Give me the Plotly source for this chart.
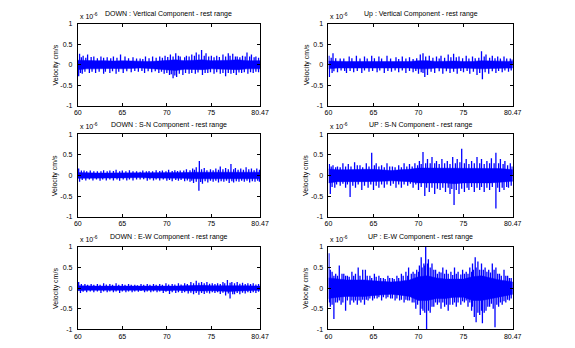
import plotly.graph_objects as go

# ---- time axis ----
T_START, T_END = 60.0, 80.47
core_t = [60, 61, 62, 63, 64, 65, 66, 67, 68, 69, 70, 71, 72, 73, 74, 75,
          76, 77, 78, 79, 80, 80.47]
x_tickvals = [60, 65, 70, 75, 80.47]
x_ticktext = ["60", "65", "70", "75", "80.47"]
y_tickvals = [-1, -0.5, 0, 0.5, 1]
y_ticktext = ["-1", "-0.5", "0", "0.5", "1"]

titles = [
    "DOWN : Vertical Component - rest range",
    "Up : Vertical Component - rest range",
    "DOWN : S-N Component - rest range",
    "UP : S-N Component - rest range",
    "DOWN : E-W Component - rest range",
    "UP : E-W Component - rest range",
]

# ---- velocity, units of 1e-6 cm/s ----
# dense core of each record (upper / lower envelope at core_t)
dv_hi = [0.11, 0.10, 0.10, 0.10, 0.09, 0.10, 0.09, 0.08, 0.08, 0.09, 0.11, 0.12,
         0.10, 0.11, 0.12, 0.10, 0.10, 0.11, 0.12, 0.10, 0.10, 0.10]
dv_lo = [-0.12, -0.10, -0.10, -0.10, -0.09, -0.10, -0.09, -0.08, -0.09, -0.10, -0.12,
         -0.14, -0.11, -0.11, -0.12, -0.10, -0.11, -0.11, -0.12, -0.10, -0.10, -0.10]
uv_hi = [0.09, 0.08, 0.08, 0.08, 0.08, 0.08, 0.08, 0.07, 0.08, 0.08, 0.10, 0.10,
         0.08, 0.09, 0.09, 0.08, 0.08, 0.10, 0.09, 0.08, 0.08, 0.08]
uv_lo = [-0.10, -0.08, -0.08, -0.08, -0.08, -0.08, -0.08, -0.07, -0.08, -0.08, -0.10,
         -0.10, -0.08, -0.09, -0.09, -0.08, -0.09, -0.10, -0.09, -0.08, -0.08, -0.08]
dsn_hi = [0.07, 0.06, 0.06, 0.06, 0.06, 0.06, 0.06, 0.06, 0.06, 0.06, 0.07, 0.07,
          0.07, 0.08, 0.08, 0.08, 0.08, 0.08, 0.08, 0.08, 0.08, 0.08]
dsn_lo = [-0.07, -0.06, -0.06, -0.06, -0.06, -0.06, -0.06, -0.05, -0.06, -0.06, -0.07,
          -0.07, -0.07, -0.08, -0.09, -0.08, -0.08, -0.08, -0.08, -0.08, -0.08, -0.08]
usn_hi = [0.16, 0.14, 0.14, 0.15, 0.15, 0.15, 0.14, 0.12, 0.14, 0.15, 0.18, 0.18,
          0.18, 0.18, 0.18, 0.17, 0.18, 0.18, 0.18, 0.17, 0.15, 0.14]
usn_lo = [-0.18, -0.15, -0.15, -0.15, -0.15, -0.15, -0.14, -0.13, -0.14, -0.15, -0.18,
          -0.18, -0.18, -0.18, -0.20, -0.18, -0.18, -0.18, -0.18, -0.17, -0.15, -0.14]
dew_hi = [0.06, 0.05, 0.05, 0.05, 0.05, 0.05, 0.05, 0.04, 0.05, 0.05, 0.05, 0.05,
          0.06, 0.07, 0.07, 0.06, 0.06, 0.07, 0.07, 0.06, 0.05, 0.05]
dew_lo = [-0.06, -0.05, -0.05, -0.05, -0.05, -0.05, -0.05, -0.04, -0.05, -0.05, -0.06,
          -0.05, -0.06, -0.07, -0.07, -0.06, -0.07, -0.08, -0.07, -0.06, -0.05, -0.05]
uew_hi = [0.25, 0.22, 0.20, 0.20, 0.20, 0.18, 0.16, 0.15, 0.17, 0.20, 0.28, 0.30,
          0.25, 0.22, 0.22, 0.22, 0.28, 0.30, 0.25, 0.20, 0.17, 0.15]
uew_lo = [-0.25, -0.22, -0.20, -0.20, -0.20, -0.18, -0.16, -0.15, -0.17, -0.20, -0.30,
          -0.30, -0.25, -0.25, -0.22, -0.22, -0.30, -0.30, -0.25, -0.20, -0.17, -0.15]

# major peaks (time, value)
dv_pk_t = [60.2, 60.6, 61.1, 61.8, 62.6, 63.3, 64.0, 64.8, 65.3, 66.2, 67.0, 67.6, 68.4,
           69.2, 69.8, 70.4, 71.0, 71.5, 72.2, 72.8, 73.3, 73.9, 74.4, 75.0, 75.6, 76.3,
           76.9, 77.4, 77.9, 78.5, 79.0, 79.5, 80.0,
           60.1, 60.5, 61.3, 62.0, 62.9, 63.6, 64.3, 65.1, 66.0, 66.8, 67.5, 68.3, 69.1,
           69.7, 70.3, 70.7, 71.1, 71.8, 72.5, 73.2, 74.0, 74.6, 75.3, 76.0, 76.6, 77.2,
           77.8, 78.4, 79.1, 79.7, 80.3]
dv_pk_v = [0.27, 0.22, 0.25, 0.20, 0.20, 0.18, 0.20, 0.25, 0.20, 0.18, 0.15, 0.20, 0.20,
           0.20, 0.22, 0.25, 0.28, 0.20, 0.22, 0.25, 0.30, 0.36, 0.28, 0.22, 0.22, 0.25,
           0.28, 0.27, 0.20, 0.22, 0.30, 0.25, 0.20,
           -0.28, -0.22, -0.20, -0.20, -0.22, -0.20, -0.22, -0.20, -0.18, -0.17, -0.20,
           -0.18, -0.20, -0.22, -0.25, -0.33, -0.30, -0.25, -0.22, -0.22, -0.25, -0.20,
           -0.22, -0.22, -0.28, -0.22, -0.25, -0.20, -0.22, -0.20, -0.18]
uv_pk_t = [60.05, 60.5, 62.3, 63.1, 64.0, 64.8, 65.6, 66.5, 67.5, 68.2, 69.0, 70.2, 70.5,
           71.2, 72.0, 72.5, 73.3, 73.9, 74.5, 75.3, 76.0, 77.0, 77.5, 78.2, 78.8, 79.5,
           80.2,
           60.1, 60.4, 61.0, 62.0, 62.8, 63.7, 64.5, 65.4, 66.2, 67.0, 67.8, 68.6, 69.4,
           70.0, 70.7, 71.0, 71.8, 72.7, 73.5, 74.3, 75.0, 75.7, 76.5, 77.1, 77.8, 78.6,
           79.3, 80.0]
uv_pk_v = [0.22, 0.28, 0.20, 0.22, 0.20, 0.22, 0.20, 0.22, 0.18, 0.20, 0.18, 0.25, 0.28,
           0.22, 0.20, 0.22, 0.25, 0.27, 0.20, 0.22, 0.20, 0.33, 0.25, 0.22, 0.20, 0.20,
           0.15,
           -0.30, -0.20, -0.18, -0.20, -0.18, -0.20, -0.17, -0.18, -0.20, -0.17, -0.18,
           -0.20, -0.18, -0.22, -0.30, -0.25, -0.20, -0.22, -0.20, -0.22, -0.18, -0.22,
           -0.25, -0.35, -0.22, -0.20, -0.18, -0.17]
dsn_pk_t = [60.1, 60.7, 61.4, 62.2, 62.9, 63.6, 64.3, 65.0, 65.8, 66.6, 67.3, 68.0, 68.8,
            69.5, 70.2, 70.9, 71.5, 72.2, 72.9, 73.3, 73.65, 74.2, 74.9, 75.5, 76.0, 76.6,
            77.2, 77.7, 78.3, 78.9, 79.5, 80.1,
            60.2, 60.9, 61.7, 62.5, 63.2, 64.0, 64.7, 65.5, 66.2, 67.0, 67.8, 68.5, 69.2,
            70.0, 70.6, 71.3, 72.0, 72.6, 73.0, 73.6, 74.0, 74.6, 75.2, 75.8, 76.4, 77.0,
            77.5, 78.1, 78.7, 79.3, 79.9, 80.4]
dsn_pk_v = [0.17, 0.12, 0.12, 0.10, 0.13, 0.12, 0.14, 0.12, 0.13, 0.10, 0.12, 0.11, 0.13,
            0.12, 0.14, 0.13, 0.12, 0.15, 0.17, 0.20, 0.35, 0.18, 0.15, 0.17, 0.22, 0.18,
            0.28, 0.18, 0.17, 0.20, 0.17, 0.17,
            -0.15, -0.12, -0.12, -0.13, -0.12, -0.12, -0.13, -0.12, -0.12, -0.10, -0.13,
            -0.12, -0.12, -0.13, -0.14, -0.13, -0.14, -0.15, -0.18, -0.37, -0.20, -0.17,
            -0.15, -0.17, -0.15, -0.18, -0.17, -0.15, -0.15, -0.17, -0.15, -0.15]
usn_pk_t = [60.1, 60.5, 61.0, 61.6, 62.2, 62.9, 63.5, 64.2, 64.8, 65.3, 65.9, 66.5, 67.1,
            67.8, 68.4, 69.0, 69.6, 70.1, 70.5, 71.0, 71.5, 72.0, 72.6, 73.2, 73.8, 74.3,
            74.8, 75.3, 75.9, 76.5, 77.0, 77.6, 78.1, 78.6, 79.1, 79.6, 80.2,
            60.2, 60.7, 61.3, 61.9, 62.4, 63.0, 63.7, 64.4, 65.0, 65.6, 66.2, 66.9, 67.5,
            68.1, 68.8, 69.4, 70.0, 70.7, 71.2, 71.8, 72.4, 73.0, 73.5, 73.95, 74.5, 75.1,
            75.6, 76.2, 76.8, 77.3, 77.9, 78.6, 79.0, 79.5, 80.0]
usn_pk_v = [0.28, 0.25, 0.22, 0.30, 0.28, 0.32, 0.25, 0.30, 0.55, 0.30, 0.25, 0.30, 0.22,
            0.25, 0.30, 0.28, 0.30, 0.35, 0.57, 0.40, 0.45, 0.35, 0.40, 0.35, 0.45, 0.40,
            0.65, 0.40, 0.35, 0.45, 0.40, 0.35, 0.42, 0.55, 0.40, 0.35, 0.30,
            -0.45, -0.30, -0.25, -0.30, -0.52, -0.30, -0.35, -0.30, -0.35, -0.30, -0.30,
            -0.25, -0.30, -0.30, -0.25, -0.30, -0.35, -0.50, -0.40, -0.45, -0.35, -0.40,
            -0.45, -0.72, -0.45, -0.40, -0.35, -0.40, -0.35, -0.40, -0.35, -0.80, -0.40,
            -0.35, -0.30]
dew_pk_t = [60.1, 60.8, 61.5, 62.2, 62.9, 63.6, 64.3, 65.0, 65.7, 66.4, 67.1, 67.8, 68.5,
            69.2, 69.9, 70.6, 71.3, 72.0, 72.7, 73.3, 73.9, 74.5, 75.1, 75.7, 76.3, 76.8,
            77.3, 77.9, 78.5, 79.1, 79.7, 80.3,
            60.3, 61.0, 61.8, 62.6, 63.3, 64.0, 64.7, 65.4, 66.1, 66.8, 67.5, 68.2, 68.9,
            69.6, 70.3, 71.0, 71.7, 72.4, 73.0, 73.6, 74.2, 74.8, 75.4, 76.0, 76.6, 77.1,
            77.6, 78.2, 78.8, 79.4, 80.0]
dew_pk_v = [0.15, 0.10, 0.10, 0.10, 0.12, 0.10, 0.12, 0.10, 0.10, 0.08, 0.10, 0.10, 0.10,
            0.10, 0.12, 0.10, 0.12, 0.12, 0.15, 0.18, 0.15, 0.15, 0.12, 0.12, 0.15, 0.20,
            0.15, 0.15, 0.13, 0.12, 0.12, 0.10,
            -0.12, -0.10, -0.10, -0.12, -0.10, -0.10, -0.12, -0.10, -0.10, -0.09, -0.10,
            -0.10, -0.10, -0.12, -0.14, -0.12, -0.12, -0.13, -0.15, -0.16, -0.14, -0.13,
            -0.12, -0.14, -0.18, -0.25, -0.15, -0.15, -0.13, -0.12, -0.12]
uew_pk_t = [60.05, 60.4, 60.8, 61.2, 61.7, 62.1, 62.6, 63.0, 63.3, 63.8, 64.1, 64.6, 65.1,
            65.6, 66.1, 66.6, 67.1, 67.6, 68.1, 68.6, 68.9, 69.4, 69.8, 70.1, 70.3, 70.6,
            70.8, 71.1, 71.5, 71.9, 72.3, 72.7, 73.1, 73.6, 74.0, 74.4, 74.9, 75.3, 75.7,
            76.0, 76.3, 76.6, 77.0, 77.4, 77.8, 78.2, 78.6, 79.0, 79.5, 79.9, 80.3,
            60.2, 60.6, 61.0, 61.4, 61.9, 62.4, 62.8, 63.2, 63.6, 64.0, 64.4, 64.9, 65.4,
            65.9, 66.4, 66.9, 67.4, 67.9, 68.4, 68.8, 69.3, 69.7, 70.2, 70.5, 70.9, 71.3,
            71.7, 72.1, 72.5, 72.9, 73.3, 73.8, 74.2, 74.7, 75.1, 75.5, 75.9, 76.2, 76.4,
            76.8, 77.1, 77.5, 77.9, 78.3, 78.5, 78.9, 79.3, 79.7, 80.1]
uew_pk_v = [0.85, 0.40, 0.35, 0.55, 0.35, 0.30, 0.40, 0.35, 0.50, 0.45, 0.45, 0.30, 0.35,
            0.30, 0.25, 0.30, 0.25, 0.30, 0.35, 0.40, 0.50, 0.40, 0.45, 0.55, 0.75, 0.60,
            1.00, 0.70, 0.60, 0.45, 0.40, 0.50, 0.45, 0.40, 0.50, 0.40, 0.45, 0.40, 0.50,
            0.60, 0.75, 0.65, 0.60, 0.50, 0.45, 0.60, 0.50, 0.35, 0.45, 0.30, 0.25,
            -0.45, -0.75, -0.35, -0.40, -0.55, -0.40, -0.35, -0.40, -0.35, -0.40, -0.30,
            -0.30, -0.25, -0.30, -0.25, -0.25, -0.30, -0.30, -0.35, -0.30, -0.35, -0.50,
            -0.65, -0.55, -1.00, -0.60, -0.45, -0.40, -0.50, -0.45, -0.55, -0.40, -0.45,
            -0.40, -0.35, -0.45, -0.55, -0.70, -0.83, -0.65, -0.85, -0.55, -0.45, -0.50,
            -0.95, -0.45, -0.40, -0.35, -0.30]

# minor peaks (time, value) just outside the dense core
dv_mn_t = [60.4, 60.9, 61.5, 62.2, 62.9, 63.7, 64.4, 65.7, 66.6, 67.3, 68.0, 68.8, 69.5,
           70.1, 70.7, 71.3, 72.0, 72.5, 73.1, 73.6, 74.2, 74.7, 75.3, 75.9, 76.6, 77.1,
           77.7, 78.2, 78.8, 79.3, 79.8, 80.3,
           60.3, 60.8, 61.6, 62.4, 63.1, 63.9, 64.6, 65.5, 66.4, 67.2, 67.9, 68.7, 69.4,
           70.0, 70.5, 70.9, 71.4, 72.1, 72.8, 73.5, 74.3, 74.9, 75.6, 76.3, 76.9, 77.5,
           78.1, 78.7, 79.4, 80.0]
dv_mn_v = [0.18, 0.17, 0.19, 0.16, 0.17, 0.16, 0.17, 0.16, 0.15, 0.14, 0.16, 0.17, 0.17,
           0.19, 0.20, 0.22, 0.18, 0.20, 0.22, 0.25, 0.22, 0.20, 0.18, 0.19, 0.20, 0.22,
           0.20, 0.18, 0.20, 0.20, 0.18, 0.17,
           -0.20, -0.17, -0.17, -0.17, -0.17, -0.16, -0.17, -0.16, -0.15, -0.15, -0.16,
           -0.16, -0.17, -0.20, -0.23, -0.26, -0.22, -0.20, -0.20, -0.19, -0.20, -0.18,
           -0.18, -0.20, -0.20, -0.20, -0.19, -0.18, -0.18, -0.17]
uv_mn_t = [60.3, 60.8, 61.3, 61.7, 62.6, 63.5, 64.3, 65.1, 65.9, 66.9, 67.8, 68.6, 69.4,
           69.8, 70.8, 71.6, 72.3, 72.9, 73.6, 74.2, 74.9, 75.6, 76.3, 76.7, 77.3, 77.9,
           78.5, 79.1, 79.8, 80.4,
           60.6, 61.4, 61.8, 62.4, 63.2, 64.0, 64.9, 65.7, 66.6, 67.4, 68.2, 69.0, 69.7,
           70.3, 70.5, 71.4, 72.3, 73.1, 73.9, 74.7, 75.4, 76.1, 76.8, 77.4, 78.2, 78.9,
           79.6, 80.3]
uv_mn_v = [0.17, 0.16, 0.15, 0.15, 0.16, 0.15, 0.15, 0.16, 0.15, 0.15, 0.14, 0.15, 0.14,
           0.16, 0.20, 0.17, 0.15, 0.17, 0.18, 0.18, 0.16, 0.15, 0.16, 0.17, 0.20, 0.17,
           0.16, 0.15, 0.15, 0.13,
           -0.16, -0.14, -0.15, -0.15, -0.15, -0.14, -0.15, -0.14, -0.15, -0.14, -0.14,
           -0.15, -0.15, -0.18, -0.20, -0.17, -0.16, -0.16, -0.17, -0.15, -0.15, -0.17,
           -0.20, -0.18, -0.16, -0.15, -0.14, -0.14]
dsn_mn_t = [60.4, 61.0, 61.8, 62.6, 63.3, 64.0, 64.7, 65.4, 66.2, 67.0, 67.7, 68.4, 69.2,
            69.9, 70.6, 71.2, 71.9, 72.6, 73.1, 73.9, 74.5, 75.2, 75.8, 76.3, 76.9, 77.5,
            78.0, 78.6, 79.2, 79.8, 80.4,
            60.5, 61.3, 62.1, 62.8, 63.6, 64.4, 65.1, 65.8, 66.6, 67.4, 68.1, 68.8, 69.6,
            70.3, 71.0, 71.6, 72.3, 72.8, 73.3, 73.8, 74.3, 74.9, 75.5, 76.1, 76.7, 77.3,
            77.8, 78.4, 79.0, 79.6, 80.2]
dsn_mn_v = [0.12, 0.10, 0.10, 0.10, 0.10, 0.11, 0.10, 0.10, 0.10, 0.09, 0.10, 0.10, 0.11,
            0.10, 0.11, 0.11, 0.12, 0.13, 0.14, 0.15, 0.13, 0.13, 0.14, 0.15, 0.15, 0.15,
            0.14, 0.14, 0.15, 0.13, 0.14,
            -0.11, -0.10, -0.10, -0.10, -0.10, -0.10, -0.10, -0.10, -0.10, -0.09, -0.10,
            -0.10, -0.10, -0.11, -0.11, -0.11, -0.12, -0.13, -0.15, -0.16, -0.14, -0.13,
            -0.13, -0.14, -0.13, -0.14, -0.14, -0.13, -0.13, -0.14, -0.13]
usn_mn_t = [60.3, 60.8, 61.3, 61.9, 62.5, 63.2, 63.8, 64.5, 65.1, 65.6, 66.2, 66.8, 67.4,
            68.1, 68.7, 69.3, 69.9, 70.3, 70.8, 71.3, 71.8, 72.3, 72.9, 73.5, 74.1, 74.6,
            75.1, 75.6, 76.2, 76.8, 77.3, 77.9, 78.4, 78.9, 79.4, 79.9, 80.4,
            60.4, 60.9, 61.6, 62.1, 62.7, 63.3, 64.0, 64.7, 65.3, 65.9, 66.5, 67.2, 67.8,
            68.4, 69.1, 69.7, 70.3, 70.9, 71.5, 72.1, 72.7, 73.3, 73.7, 74.2, 74.8, 75.4,
            75.9, 76.5, 77.0, 77.6, 78.2, 78.8, 79.3, 79.8, 80.3]
usn_mn_v = [0.22, 0.20, 0.20, 0.22, 0.22, 0.25, 0.20, 0.22, 0.25, 0.22, 0.20, 0.22, 0.20,
            0.20, 0.22, 0.22, 0.25, 0.28, 0.30, 0.30, 0.30, 0.28, 0.30, 0.28, 0.30, 0.32,
            0.30, 0.28, 0.30, 0.30, 0.28, 0.30, 0.30, 0.30, 0.28, 0.25, 0.22,
            -0.28, -0.22, -0.20, -0.22, -0.25, -0.22, -0.25, -0.22, -0.25, -0.22, -0.22,
            -0.20, -0.22, -0.22, -0.20, -0.22, -0.28, -0.30, -0.30, -0.32, -0.30, -0.30,
            -0.33, -0.35, -0.32, -0.30, -0.28, -0.30, -0.28, -0.30, -0.28, -0.30, -0.30,
            -0.28, -0.25]
dew_mn_t = [60.4, 61.1, 61.8, 62.5, 63.2, 63.9, 64.6, 65.3, 66.0, 66.7, 67.4, 68.1, 68.8,
            69.5, 70.2, 70.9, 71.6, 72.3, 73.0, 73.6, 74.2, 74.8, 75.4, 76.0, 76.5, 77.1,
            77.6, 78.2, 78.8, 79.4, 80.0,
            60.6, 61.4, 62.2, 62.9, 63.6, 64.3, 65.0, 65.7, 66.4, 67.1, 67.8, 68.5, 69.2,
            69.9, 70.6, 71.3, 72.0, 72.7, 73.3, 73.9, 74.5, 75.1, 75.7, 76.3, 76.9, 77.4,
            77.9, 78.5, 79.1, 79.7, 80.3]
dew_mn_v = [0.10, 0.08, 0.08, 0.08, 0.09, 0.08, 0.08, 0.08, 0.08, 0.07, 0.08, 0.08, 0.08,
            0.08, 0.09, 0.09, 0.09, 0.10, 0.12, 0.13, 0.12, 0.11, 0.10, 0.10, 0.12, 0.13,
            0.12, 0.11, 0.10, 0.10, 0.09,
            -0.09, -0.08, -0.08, -0.08, -0.08, -0.08, -0.08, -0.08, -0.08, -0.07, -0.08,
            -0.08, -0.08, -0.09, -0.10, -0.10, -0.10, -0.11, -0.12, -0.12, -0.11, -0.10,
            -0.10, -0.11, -0.13, -0.15, -0.12, -0.11, -0.10, -0.10, -0.09]
uew_mn_t = [60.2, 60.6, 61.0, 61.5, 61.9, 62.3, 62.8, 63.5, 64.3, 64.8, 65.3, 65.8, 66.3,
            66.8, 67.3, 67.8, 68.3, 68.8, 69.2, 69.6, 70.0, 70.4, 70.7, 71.0, 71.3, 71.7,
            72.1, 72.5, 72.9, 73.3, 73.8, 74.2, 74.7, 75.1, 75.5, 75.9, 76.1, 76.4, 76.8,
            77.2, 77.6, 78.0, 78.4, 78.8, 79.2, 79.7, 80.1,
            60.1, 60.4, 60.8, 61.2, 61.6, 62.1, 62.6, 63.0, 63.4, 63.8, 64.2, 64.6, 65.1,
            65.6, 66.1, 66.6, 67.1, 67.6, 68.1, 68.6, 69.0, 69.5, 69.9, 70.4, 70.7, 71.1,
            71.5, 71.9, 72.3, 72.7, 73.1, 73.5, 74.0, 74.4, 74.9, 75.3, 75.7, 76.0, 76.6,
            77.0, 77.3, 77.7, 78.1, 78.7, 79.1, 79.5, 79.9, 80.3]
uew_mn_v = [0.45, 0.30, 0.30, 0.35, 0.30, 0.28, 0.30, 0.30, 0.30, 0.25, 0.28, 0.25, 0.22,
            0.25, 0.22, 0.25, 0.30, 0.30, 0.35, 0.35, 0.40, 0.50, 0.55, 0.60, 0.50, 0.45,
            0.35, 0.38, 0.35, 0.35, 0.32, 0.35, 0.33, 0.35, 0.35, 0.40, 0.45, 0.50, 0.45,
            0.45, 0.40, 0.38, 0.45, 0.35, 0.30, 0.30, 0.25,
            -0.35, -0.40, -0.35, -0.30, -0.35, -0.30, -0.30, -0.30, -0.30, -0.28, -0.28,
            -0.25, -0.25, -0.22, -0.22, -0.22, -0.25, -0.25, -0.28, -0.28, -0.30, -0.35,
            -0.40, -0.50, -0.60, -0.55, -0.45, -0.35, -0.35, -0.35, -0.40, -0.40, -0.35,
            -0.35, -0.32, -0.30, -0.35, -0.45, -0.60, -0.55, -0.60, -0.45, -0.38, -0.40,
            -0.35, -0.32, -0.28, -0.25]

panels = [
    (dv_hi, dv_lo, dv_pk_t + dv_mn_t, dv_pk_v + dv_mn_v),
    (uv_hi, uv_lo, uv_pk_t + uv_mn_t, uv_pk_v + uv_mn_v),
    (dsn_hi, dsn_lo, dsn_pk_t + dsn_mn_t, dsn_pk_v + dsn_mn_v),
    (usn_hi, usn_lo, usn_pk_t + usn_mn_t, usn_pk_v + usn_mn_v),
    (dew_hi, dew_lo, dew_pk_t + dew_mn_t, dew_pk_v + dew_mn_v),
    (uew_hi, uew_lo, uew_pk_t + uew_mn_t, uew_pk_v + uew_mn_v),
]

# ---- layout geometry (pixels, converted to paper fractions) ----
W, H = 575, 348
col_px = [(75.5, 262.0), (332.0, 520.5)]
row_px = [(20.0, 104.0), (133.0, 217.0), (248.0, 332.0)]

BLUE = "rgb(0,0,255)"
FONT = "Liberation Sans, Arial, sans-serif"
FS = 7

fig = go.Figure()
layout = dict(
    width=W, height=H, margin=dict(l=0, r=0, t=0, b=0),
    paper_bgcolor="white", plot_bgcolor="white", showlegend=False,
    font=dict(family=FONT, size=FS, color="black"),
)
annotations = []

for i, (hi, lo, pk_t, pk_v) in enumerate(panels):
    r, c = divmod(i, 2)
    n = i + 1
    xa = "x" if n == 1 else f"x{n}"
    ya = "y" if n == 1 else f"y{n}"
    x0, x1 = col_px[c]
    y0, y1 = row_px[r]

    # dense core of the record
    fig.add_trace(go.Scatter(
        x=core_t + core_t[::-1], y=hi + lo[::-1], xaxis=xa, yaxis=ya,
        mode="lines", fill="toself", fillcolor=BLUE,
        line=dict(color=BLUE, width=0.5), hoverinfo="skip"))
    # individual peaks as vertical strokes from zero
    sx, sy = [], []
    for t, v in zip(pk_t, pk_v):
        sx += [t, t, None]
        sy += [0, v, None]
    fig.add_trace(go.Scatter(
        x=sx, y=sy, xaxis=xa, yaxis=ya, mode="lines",
        line=dict(color=BLUE, width=1.3), hoverinfo="skip"))

    axis_common = dict(
        showline=True, linecolor="black", linewidth=1, mirror="ticks",
        ticks="inside", ticklen=3, tickcolor="black", tickwidth=1,
        showgrid=False, zeroline=False,
        tickfont=dict(family=FONT, size=FS, color="black"),
    )
    layout["xaxis" if n == 1 else f"xaxis{n}"] = dict(
        axis_common, domain=[x0 / W, x1 / W], range=[T_START, T_END],
        tickvals=x_tickvals, ticktext=x_ticktext, anchor=ya)
    layout["yaxis" if n == 1 else f"yaxis{n}"] = dict(
        axis_common, domain=[1 - y1 / H, 1 - y0 / H], range=[-1, 1],
        tickvals=y_tickvals, ticktext=y_ticktext, anchor=xa,
        ticklabelstandoff=3)

    cx = (x0 + x1) / 2 / W
    annotations.append(dict(
        text=titles[i], xref="paper", yref="paper", x=cx, y=1 - (y0 - 10) / H,
        showarrow=False, xanchor="center", yanchor="middle",
        font=dict(family=FONT, size=FS)))
    annotations.append(dict(
        text="x 10<sup>-6</sup>", xref="paper", yref="paper", x=x0 / W,
        y=1 - (y0 - 2) / H, showarrow=False, xanchor="left", yanchor="bottom",
        font=dict(family=FONT, size=FS)))
    annotations.append(dict(
        text="Velocity cm/s", xref="paper", yref="paper", x=(x0 - 22.5) / W,
        y=1 - (y0 + y1) / 2 / H, showarrow=False, textangle=-90,
        xanchor="center", yanchor="middle", font=dict(family=FONT, size=FS)))

layout["annotations"] = annotations
fig.update_layout(**layout)
fig.write_html("out.html")
